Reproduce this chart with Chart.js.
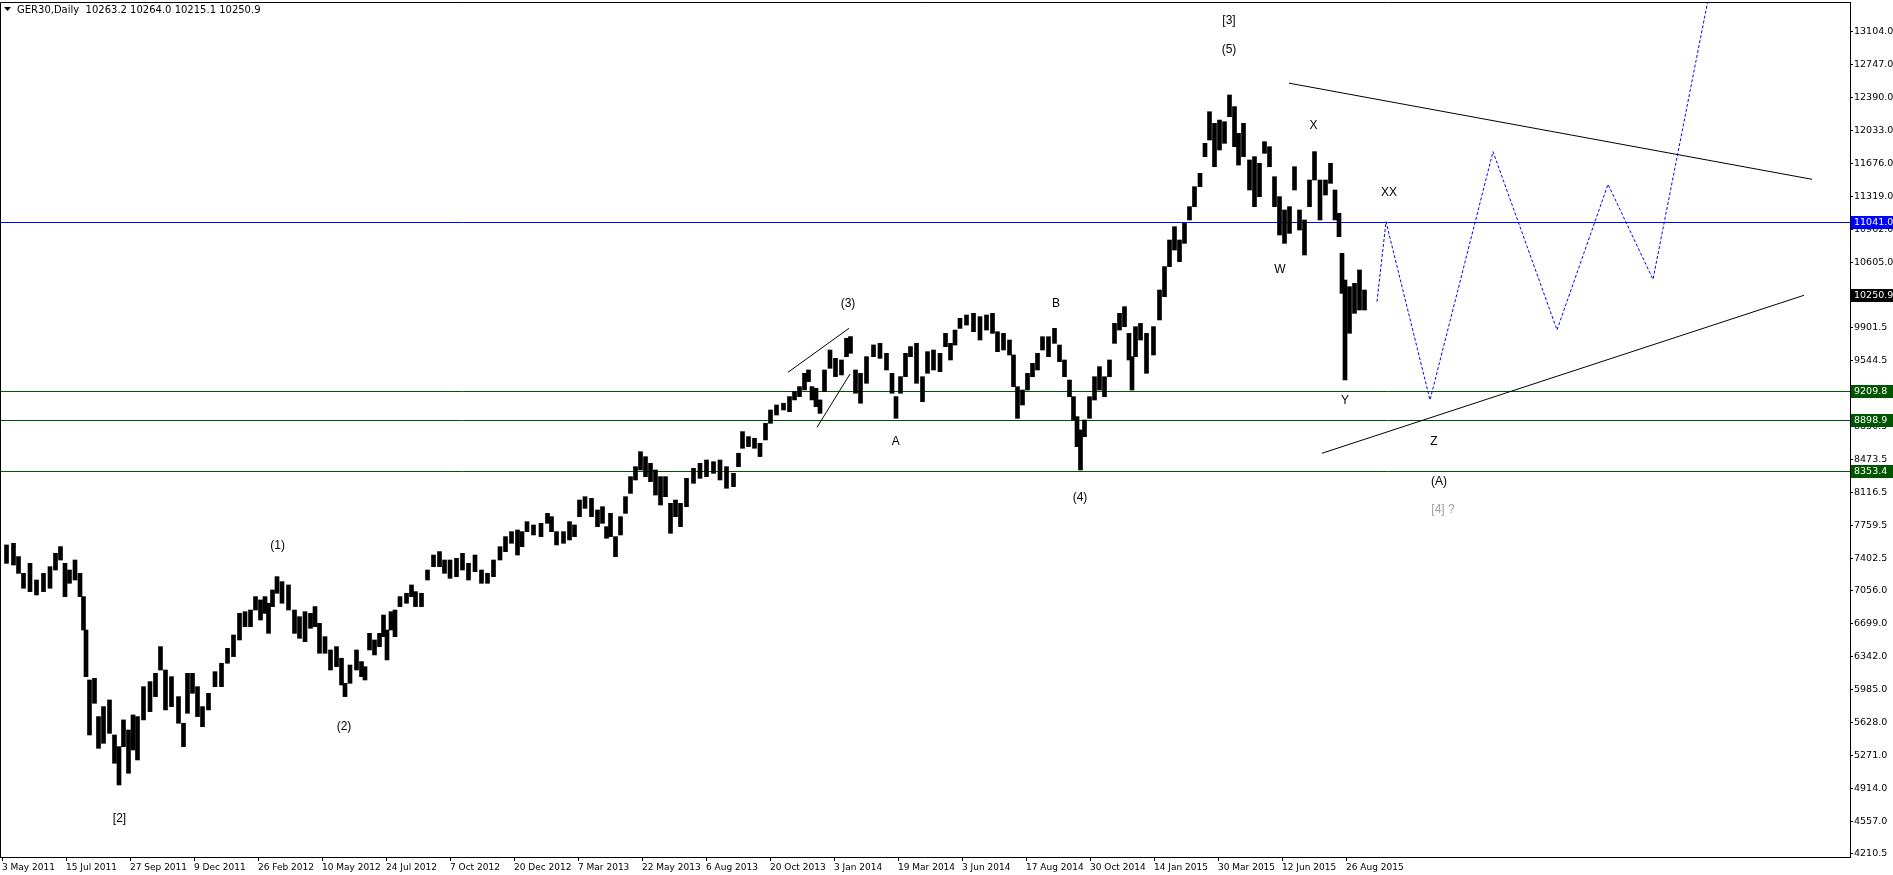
<!DOCTYPE html>
<html>
<head>
<meta charset="utf-8">
<script src="https://cdn.jsdelivr.net/npm/chart.js@4.4.1/dist/chart.umd.min.js"></script>
<style>
    html, body { margin: 0; padding: 0; background: #fff; overflow: hidden; }
</style>
</head>
<body>
<canvas id="js--chart" width="1893" height="875"></canvas>
<script>
// bar index (trading days since 3 May 2011), high / low of each small group of bars
const barIdx = [4.5, 11.5, 16.5, 21.5, 28, 34.5, 41.5, 48, 53.5, 58.5, 63, 67.5, 73, 78, 81.5, 84, 87.5, 92.5, 96.5, 101.5,
    107.5, 112.5, 117, 121.5, 126.5, 131, 135.5, 141.5, 148, 153.5, 158.5, 163.5, 169.5, 176.5, 181.5, 185.5, 190.5, 195.5, 200.5, 206.5,
    213, 219.5, 225.5,
    231.5, 237.5, 243, 248.5, 253.5, 258.5, 263, 266.5, 270.5, 275, 280, 286.5, 292.5, 297.5, 303, 308.5, 313, 317.5, 323, 328.5,
    334.5, 339.5, 343, 348, 354.5, 359.5, 363, 367.5, 372.5, 377.5, 381.5, 385, 389, 393, 398, 404.5, 409.5, 413.5, 419.5, 425.5,
    431.5, 437.5, 442.5, 448, 454.5,
    460.5, 466.5, 473, 479.5, 485.5, 491.5, 498, 503.5, 509.5, 515.5, 520, 525, 531.5, 539, 545.5, 549.5, 554.5, 561.5, 567.5, 572.5,
    577.5, 583, 589.5, 595.5, 600.5, 604.5, 608.5, 613.5, 618.5, 623.5, 628.5, 633.5, 638.5, 643.5, 648.5, 653.5, 658.5, 663.5, 668.5, 673.5,
    678.5, 684.5,
    691.5, 698, 704.5, 711.5, 718, 724.5, 731.5, 736.5, 740.5, 746.5, 752.5, 758, 763.5, 768.5, 774.5, 781.5, 787.5, 792.5, 797.5, 802.5,
    806.5, 810, 814, 818, 822.5, 828, 833.5, 839.5, 844.5, 848.5, 853.5, 858.5, 864.5, 871.5, 878, 884.5, 890, 894, 898.5, 903.5,
    908.5, 914.5,
    920.5, 925.5, 931.5, 938, 943.5, 948.5, 953, 958, 964.5, 971.5, 978, 984.5, 990.5, 995.5, 1001.5, 1007.5, 1011.5, 1015.5, 1020.5, 1025.5,
    1030.5, 1035.5, 1040.5, 1046.5, 1052.5, 1057.5, 1062.5, 1067.5, 1071.5, 1075, 1078.5, 1082.5, 1087.5, 1092.5, 1097.5, 1102.5, 1107.5, 1112.5, 1117.5, 1122.5,
    1127, 1130, 1133.5, 1138.5, 1144.5,
    1151.5, 1157.5, 1162.5, 1167.5, 1172.5, 1177.5, 1182.5, 1187.5, 1192.5, 1198, 1203, 1207.5, 1212.5, 1217.5, 1222.5, 1227.5, 1232.5, 1236.5, 1241.5, 1247.5,
    1252.5, 1257.5, 1262.5, 1267.5, 1272.5, 1277.5, 1282.5, 1287.5, 1292.5, 1297.5, 1302.5, 1307.5, 1312.5, 1318, 1323.5, 1328.5, 1333, 1337, 1340, 1343,
    1347.5, 1352.5, 1357.5, 1362.5];

const barHigh = [7548, 7566, 7422, 7241, 7349, 7169, 7241, 7313, 7458, 7530, 7349, 7277, 7385, 7241, 6989, 6628, 6087, 6105, 5691, 5799,
    5871, 5492, 5366, 5655, 5546, 5709, 5691, 6015, 6069, 6159, 6448, 6195, 6123, 5907, 5619, 6159, 6159, 6015, 5799, 5943,
    6177, 6268, 6430,
    6574, 6808, 6826, 6844, 6989, 6953, 6989, 6917, 7061, 7205, 7151, 7115, 6844, 6772, 6826, 6808, 6881, 6700, 6556, 6412,
    6448, 6322, 6051, 6249, 6412, 6286, 6231, 6592, 6520, 6592, 6790, 6628, 6826, 6844, 6989, 7025, 7115, 7043, 7025, 7277,
    7439, 7476, 7385, 7385, 7403,
    7457, 7349, 7439, 7277, 7241, 7385, 7529, 7638, 7692, 7710, 7692, 7800, 7764, 7782, 7890, 7854, 7692, 7692, 7800, 7764,
    8034, 8070, 8052, 7926, 7962, 7746, 7890, 7638, 7854, 8070, 8287, 8395, 8557, 8503, 8431, 8359, 8287, 8287, 7998, 8034,
    7998, 8269,
    8377, 8431, 8467, 8449, 8467, 8395, 8323, 8540, 8774, 8720, 8702, 8648, 8864, 9008, 9062, 9081, 9153, 9207, 9261, 9405,
    9441, 9261, 9243, 9117, 9441, 9657, 9567, 9549, 9784, 9802, 9441, 9405, 9585, 9712, 9730, 9621, 9405, 9153, 9369, 9621,
    9694, 9730,
    9368, 9639, 9657, 9621, 9837, 9729, 9873, 10000, 10036, 10054, 10018, 10036, 10054, 9855, 9837, 9765, 9603, 9260, 9224, 9405,
    9513, 9621, 9801, 9801, 9891, 9711, 9549, 9332, 9152, 8936, 8792, 8900, 9152, 9368, 9477, 9368, 9549, 9945, 10054, 10126,
    9837, 9585, 9909, 9945, 9837,
    9910, 10306, 10559, 10847, 10991, 10847, 11027, 11208, 11424, 11568, 11893, 12235, 12109, 12145, 12127, 12416, 12290, 12001, 12109, 11713,
    11749, 11677, 11911, 11857, 11532, 11316, 11172, 11208, 11640, 11172, 11064, 11496, 11803, 11496, 11496, 11677, 11388, 11136, 10703, 10414,
    10342, 10378, 10523, 10306];

const barLow = [7349, 7331, 7241, 7079, 7043, 7007, 7043, 7079, 7277, 7385, 6989, 7133, 7169, 6989, 6628, 6123, 5492, 5835, 5348, 5402,
    5510, 5186, 4951, 5366, 5078, 5330, 5222, 5655, 5745, 5907, 6195, 5763, 5799, 5619, 5366, 5727, 5943, 5691, 5582, 5763,
    6015, 6015, 6268,
    6340, 6520, 6664, 6664, 6844, 6736, 6808, 6592, 6881, 7025, 6917, 6844, 6592, 6538, 6502, 6646, 6664, 6376, 6376, 6195,
    6231, 6033, 5907, 6051, 6195, 6123, 6087, 6412, 6358, 6448, 6556, 6304, 6628, 6556, 6881, 6917, 6989, 6881, 6881, 7169,
    7313, 7313, 7241, 7187, 7205,
    7277, 7169, 7259, 7133, 7133, 7205, 7385, 7475, 7566, 7439, 7529, 7692, 7656, 7638, 7782, 7692, 7548, 7566, 7602, 7638,
    7854, 7944, 7854, 7746, 7782, 7620, 7638, 7421, 7656, 7890, 8106, 8251, 8359, 8287, 8233, 8088, 7980, 8070, 7674, 7854,
    7746, 7962,
    8215, 8269, 8287, 8323, 8251, 8161, 8179, 8395, 8594, 8612, 8594, 8504, 8684, 8864, 8954, 9008, 8990, 9117, 9153, 9225,
    9315, 9117, 9044, 8972, 9207, 9459, 9369, 9387, 9585, 9621, 9189, 9081, 9297, 9585, 9567, 9441, 9189, 8918, 9189, 9369,
    9585, 9297,
    9098, 9405, 9441, 9423, 9693, 9549, 9711, 9891, 9927, 9855, 9765, 9873, 9837, 9639, 9657, 9603, 9260, 8918, 9062, 9224,
    9368, 9441, 9657, 9585, 9729, 9531, 9368, 9152, 8900, 8611, 8359, 8719, 8918, 9116, 9224, 9152, 9368, 9729, 9873, 9909,
    9549, 9224, 9585, 9765, 9405,
    9603, 9982, 10234, 10559, 10739, 10613, 10811, 11064, 11208, 11424, 11749, 11929, 11640, 11821, 11893, 12181, 11857, 11658, 11749, 11388,
    11208, 11316, 11785, 11640, 11208, 10901, 10811, 10919, 11388, 10955, 10685, 11208, 11496, 11064, 11334, 11460, 11064, 10883, 10270, 9333,
    9838, 10054, 10090, 10090];

const lastBar = [10263.2, 10264.0, 10215.1, 10250.9];   // open high low close

const dateTicks = [0, 64, 128, 192, 256, 320, 384, 448, 512, 576, 640, 704, 768, 832, 896, 960, 1024, 1088, 1152, 1216, 1280, 1344];
const dateLabels = ['3 May 2011', '15 Jul 2011', '27 Sep 2011', '9 Dec 2011', '26 Feb 2012', '10 May 2012', '24 Jul 2012', '7 Oct 2012',
    '20 Dec 2012', '7 Mar 2013', '22 May 2013', '6 Aug 2013', '20 Oct 2013', '3 Jan 2014', '19 Mar 2014', '3 Jun 2014',
    '17 Aug 2014', '30 Oct 2014', '14 Jan 2015', '30 Mar 2015', '12 Jun 2015', '26 Aug 2015'];

const priceTicks = [13104.0, 12747.0, 12390.0, 12033.0, 11676.0, 11319.0, 10962.0, 10605.0, 9901.5, 9544.5,
    8830.5, 8473.5, 8116.5, 7759.5, 7402.5, 7056.0, 6699.0, 6342.0, 5985.0, 5628.0, 5271.0, 4914.0, 4557.0, 4210.5];

const levels = [11041.0, 9209.8, 8898.9, 8353.4];

const upperTrend = [{x: 1287, y: 12544}, {x: 1810, y: 11504}];
const lowerTrend = [{x: 1320, y: 8540}, {x: 1802, y: 10249}];
const wedgeTop = [{x: 786, y: 9416}, {x: 847, y: 9892}];
const wedgeBottom = [{x: 815, y: 8821}, {x: 848, y: 9398}];
const projection = [{x: 1375, y: 10180}, {x: 1384, y: 11045}, {x: 1428, y: 9116}, {x: 1491, y: 11803}, {x: 1555, y: 9874},
    {x: 1606, y: 11450}, {x: 1651, y: 10422}, {x: 1706, y: 13444}];

const waveText = ['[2]', '(1)', '(2)', '(3)', 'A', 'B', '(4)', '[3]', '(5)', 'W', 'X', 'Y', 'XX', 'Z', '(A)', '[4] ?'];
const waveIdx = [117.5, 275.7, 342, 846, 893.7, 1054, 1078, 1227, 1227, 1278, 1311.5, 1343, 1387, 1432, 1437, 1441];
const wavePrice = [4588, 7537, 5581, 10155, 8665, 10155, 8063, 13222, 12908, 10530, 12085, 9106, 11359, 8662, 8232, 7932];

const levelColors = ['#0000ff', '#005500', '#005500', '#005500'];
const axisFamily = "'DejaVu Sans', sans-serif";

const lineSet = (data, color, dash) => ({
    type: 'line',
    data: data,
    borderColor: color,
    borderWidth: 1,
    borderDash: dash || [],
    pointRadius: 0,
    tension: 0,
    order: 2
});

const overlay = {
    id: 'overlay',
    beforeDraw(chart) {
        const c = chart.ctx;
        c.save();
        c.fillStyle = '#fff';
        c.fillRect(0, 0, chart.width, chart.height);
        c.restore();
    },
    beforeDatasetsDraw(chart) {
        // horizontal price levels, snapped to whole pixels so they stay crisp
        const c = chart.ctx;
        const a = chart.chartArea, y = chart.scales.y;
        c.save();
        c.lineWidth = 1;
        levels.forEach((v, i) => {
            const py = Math.round(y.getPixelForValue(v)) + 0.5;
            c.strokeStyle = levelColors[i];
            c.beginPath();
            c.moveTo(a.left, py);
            c.lineTo(a.right, py);
            c.stroke();
        });
        c.restore();
    },
    afterDatasetsDraw(chart) {
        const c = chart.ctx;
        const x = chart.scales.x, y = chart.scales.y;
        c.save();
        c.font = "12px 'Liberation Sans', Arial, sans-serif";
        c.textAlign = 'center';
        c.textBaseline = 'middle';
        waveText.forEach((t, i) => {
            c.fillStyle = t.startsWith('[4]') ? '#a0a0a0' : '#000';
            c.fillText(t, x.getPixelForValue(waveIdx[i]), y.getPixelForValue(wavePrice[i]));
        });
        c.restore();
    },
    afterDraw(chart) {
        const c = chart.ctx;
        const a = chart.chartArea, y = chart.scales.y;
        c.save();
        c.strokeStyle = '#000';
        c.lineWidth = 1;
        c.beginPath();
        c.moveTo(a.left + 0.5, a.bottom);
        c.lineTo(a.left + 0.5, a.top + 0.5);
        c.lineTo(a.right, a.top + 0.5);
        c.stroke();

        c.font = '9.5px ' + axisFamily;
        c.textAlign = 'left';
        c.textBaseline = 'middle';
        const box = (v, color) => {
            const py = Math.round(y.getPixelForValue(v));
            c.fillStyle = color;
            c.fillRect(a.right + 1, py - 6, chart.width - a.right - 1, 13);
            c.fillStyle = '#fff';
            c.fillText(v.toFixed(1), a.right + 4, py + 0.5);
        };
        levels.forEach((v, i) => box(v, levelColors[i]));
        box(lastBar[3], '#000');

        c.fillStyle = '#000';
        c.beginPath();
        c.moveTo(4, 7);
        c.lineTo(11, 7);
        c.lineTo(7.5, 11);
        c.closePath();
        c.fill();
        c.font = '10px ' + axisFamily;
        c.fillText('GER30,Daily  ' + lastBar.map(v => v.toFixed(1)).join(' '), 17, 10);
        c.restore();
    }
};

const ctx = document.getElementById('js--chart');

const priceChart = new Chart(ctx, {
    type: 'bar',
    data: {
        datasets: [
            {
                type: 'bar',
                data: barIdx.map((v, i) => ({x: v, y: [barLow[i], barHigh[i]]})),
                backgroundColor: '#000',
                borderWidth: 0,
                barThickness: 4,
                order: 1
            },
            lineSet(upperTrend, '#000'),
            lineSet(lowerTrend, '#000'),
            lineSet(wedgeTop, '#000'),
            lineSet(wedgeBottom, '#000'),
            lineSet(projection, '#0000ff', [3, 2])
        ]
    },
    options: {
        responsive: false,
        animation: false,
        devicePixelRatio: 1,
        layout: {padding: {top: 2, left: 0, right: 0, bottom: 0}},
        plugins: {
            legend: {display: false},
            tooltip: {enabled: false}
        },
        scales: {
            x: {
                type: 'linear',
                offset: false,
                min: -2,
                max: 1848,
                afterBuildTicks: s => { s.ticks = dateTicks.map(v => ({value: v})); },
                afterFit: s => { s.height = 18; s.paddingLeft = 0; s.paddingRight = 0; },
                ticks: {
                    autoSkip: false,
                    maxRotation: 0,
                    align: 'start',
                    padding: 1,
                    color: '#000',
                    font: {family: axisFamily, size: 9},
                    callback: (v, i) => dateLabels[i]
                },
                grid: {offset: false, drawOnChartArea: false, drawTicks: true, tickLength: 4, color: '#000'},
                border: {display: true, color: '#000'}
            },
            y: {
                position: 'right',
                min: 4172,
                max: 13422,
                afterBuildTicks: s => { s.ticks = priceTicks.map(v => ({value: v})); },
                afterFit: s => { s.width = 43; s.paddingTop = 0; s.paddingBottom = 0; },
                ticks: {
                    padding: 1,
                    color: '#000',
                    font: {family: axisFamily, size: 9.5},
                    callback: v => v.toFixed(1)
                },
                grid: {drawOnChartArea: false, drawTicks: true, tickLength: 3, color: '#000'},
                border: {display: true, color: '#000'}
            }
        }
    },
    plugins: [overlay]
});
</script>
</body>
</html>
